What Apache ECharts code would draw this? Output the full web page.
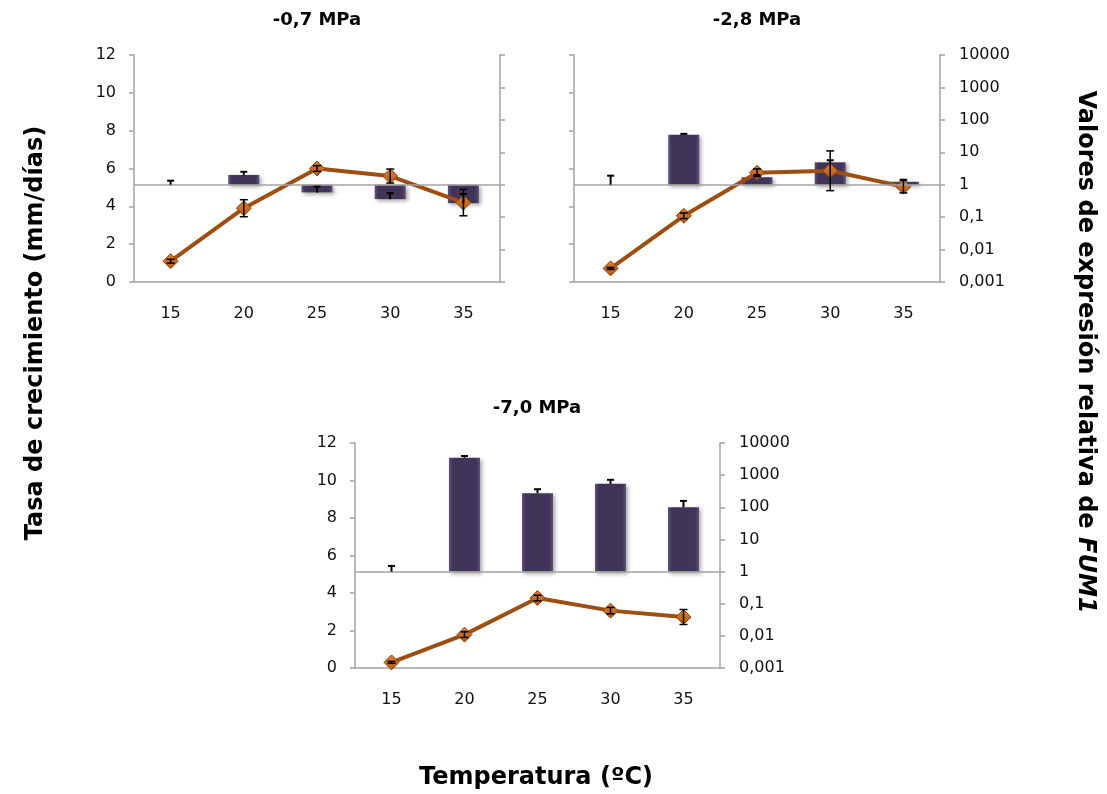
<!DOCTYPE html>
<html>
<head>
<meta charset="utf-8">
<script src="https://cdn.jsdelivr.net/npm/echarts@6/dist/echarts.min.js"></script>
<style>
  html, body { margin: 0; background: #fff; }
  #chart { width: 1107px; height: 794px; }
</style>
</head>
<body>
<div id="chart"></div>
<script>
const temperatures = ['15', '20', '25', '30', '35'];
const panelTitles = ['-0,7 MPa', '-2,8 MPa', '-7,0 MPa'];

// tasa de crecimiento (mm/días) + error
const growth07 = [1.1, 3.9, 6.0, 5.6, 4.2];
const growth07Err = [0.1, 0.45, 0.15, 0.37, 0.7];
const growth28 = [0.72, 3.5, 5.78, 5.88, 5.04];
const growth28Err = [0.05, 0.15, 0.2, 1.05, 0.33];
const growth70 = [0.3, 1.78, 3.73, 3.06, 2.72];
const growth70Err = [0.05, 0.15, 0.15, 0.17, 0.4];

// expresión relativa de FUM1 (escala log) + error (solo positivo)
const expr07 = [1.0, 2.0, 0.58, 0.36, 0.27];
const expr07Err = [0.33, 0.5, 0.29, 0.19, 0.25];
const expr28 = [1.0, 35, 1.7, 4.9, 1.23];
const expr28Err = [0.9, 2, 0.3, 0.8, 0.2];
const expr70 = [1.0, 3500, 275, 535, 100];
const expr70Err = [0.5, 445, 90, 180, 58];

const AXIS_GREY = '#a3a3a3';
const FONT = 'DejaVu Sans';

const panels = [
  { growth: growth07, gErr: growth07Err, expr: expr07, eErr: expr07Err, box: { left: 134, top: 55, width: 366, height: 227 }, leftLabels: true, rightLabels: false },
  { growth: growth28, gErr: growth28Err, expr: expr28, eErr: expr28Err, box: { left: 574, top: 55, width: 366, height: 227 }, leftLabels: false, rightLabels: true },
  { growth: growth70, gErr: growth70Err, expr: expr70, eErr: expr70Err, box: { left: 355, top: 443, width: 365, height: 225 }, leftLabels: true, rightLabels: true }
];

function errRender(plusOnly, lw, cap) {
  return function (params, api) {
    const x = api.value(0), v = api.value(1), e = api.value(2);
    const lo = plusOnly ? v : v - e;
    const hi = v + e;
    const p1 = api.coord([x, lo]);
    const p2 = api.coord([x, hi]);
    const style = { stroke: '#000', lineWidth: lw };
    const kids = [
      { type: 'line', shape: { x1: p1[0], y1: p1[1], x2: p2[0], y2: p2[1] }, style: style },
      { type: 'line', shape: { x1: p2[0] - cap, y1: p2[1], x2: p2[0] + cap, y2: p2[1] }, style: style }
    ];
    if (!plusOnly) {
      kids.push({ type: 'line', shape: { x1: p1[0] - cap, y1: p1[1], x2: p1[0] + cap, y2: p1[1] }, style: style });
    }
    return { type: 'group', children: kids };
  };
}

function fmtComma(v) {
  return String(+Number(v).toPrecision(3)).replace('.', ',');
}

const grid = [], xAxis = [], yAxis = [], series = [];

panels.forEach(function (p, i) {
  grid.push(p.box);
  xAxis.push({
    type: 'category', gridIndex: i, data: temperatures,
    axisLine: { onZero: false, lineStyle: { color: AXIS_GREY, width: 1.5 } },
    axisTick: { length: 5, lineStyle: { color: AXIS_GREY, width: 1.5 } },
    axisLabel: { color: '#111', fontSize: 16, fontFamily: FONT, margin: 24 }
  });
  yAxis.push({
    type: 'value', gridIndex: i, position: 'left', min: 0, max: 12, interval: 2,
    axisLine: { show: true, lineStyle: { color: AXIS_GREY, width: 1.5 } },
    axisTick: { show: true, length: 5, lineStyle: { color: AXIS_GREY, width: 1.5 } },
    axisLabel: { show: p.leftLabels, color: '#111', fontSize: 16, fontFamily: FONT, margin: 18 },
    splitLine: { show: false }
  });
  yAxis.push({
    type: 'log', gridIndex: i, position: 'right', logBase: 10, min: 0.001, max: 10000, splitNumber: 7,
    axisLine: { show: true, lineStyle: { color: AXIS_GREY, width: 1.5 } },
    axisTick: { show: true, length: 5, lineStyle: { color: AXIS_GREY, width: 1.5 } },
    axisLabel: { show: p.rightLabels, color: '#111', fontSize: 16, fontFamily: FONT, margin: 19, formatter: fmtComma },
    splitLine: { show: false }
  });
  const lAx = i * 2, rAx = i * 2 + 1;
  series.push({
    type: 'bar', xAxisIndex: i, yAxisIndex: rAx, data: p.expr, barWidth: 31, z: 2,
    itemStyle: {
      color: { type: 'linear', x: 0, y: 0, x2: 1, y2: 0, colorStops: [
        { offset: 0, color: '#5f5079' }, { offset: 0.12, color: '#413459' },
        { offset: 0.88, color: '#413459' }, { offset: 1, color: '#5f5079' }] },
      shadowColor: 'rgba(0,0,0,0.35)', shadowBlur: 4, shadowOffsetX: 2, shadowOffsetY: 2
    },
    markLine: {
      silent: true, symbol: 'none', label: { show: false },
      lineStyle: { color: AXIS_GREY, type: 'solid', width: 1.5 },
      data: [{ yAxis: 1 }]
    }
  });
  series.push({
    type: 'custom', xAxisIndex: i, yAxisIndex: rAx, z: 5,
    renderItem: errRender(true, 2, 3.5),
    encode: { x: 0, y: 1 },
    data: p.expr.map(function (v, k) { return [k, v, p.eErr[k]]; })
  });
  series.push({
    type: 'line', xAxisIndex: i, yAxisIndex: lAx, data: p.growth, z: 4,
    lineStyle: { color: '#9d4e10', width: 4 },
    symbol: 'diamond', symbolSize: 15,
    itemStyle: {
      color: { type: 'linear', x: 0, y: 0, x2: 0, y2: 1, colorStops: [
        { offset: 0, color: '#de7d35' }, { offset: 1, color: '#b25a16' }] },
      borderColor: '#8a430c', borderWidth: 1
    }
  });
  series.push({
    type: 'custom', xAxisIndex: i, yAxisIndex: lAx, z: 6,
    renderItem: errRender(false, 1.5, 4),
    encode: { x: 0, y: 1 },
    data: p.growth.map(function (v, k) { return [k, v, p.gErr[k]]; })
  });
});

const titleStyle = { fontFamily: FONT, fontWeight: 'bold', fontSize: 18, fill: '#000', align: 'center', verticalAlign: 'middle' };
const axisTitle = { fontFamily: FONT, fontWeight: 'bold', fontSize: 24, fill: '#000', align: 'center', verticalAlign: 'middle' };

const chart = echarts.init(document.getElementById('chart'));
chart.setOption({
  backgroundColor: '#fff',
  animation: false,
  grid: grid,
  xAxis: xAxis,
  yAxis: yAxis,
  series: series,
  graphic: [
    { type: 'text', x: 317, y: 20, style: Object.assign({ text: panelTitles[0] }, titleStyle) },
    { type: 'text', x: 757, y: 20, style: Object.assign({ text: panelTitles[1] }, titleStyle) },
    { type: 'text', x: 537, y: 408, style: Object.assign({ text: panelTitles[2] }, titleStyle) },
    { type: 'text', x: 536, y: 778, style: Object.assign({ text: 'Temperatura (ºC)' }, axisTitle) },
    { type: 'text', x: 36, y: 333, rotation: Math.PI / 2, style: Object.assign({ text: 'Tasa de crecimiento (mm/días)' }, axisTitle) },
    { type: 'text', x: 1085, y: 352, rotation: -Math.PI / 2, style: {
      text: '{a|Valores de expresión relativa de }{b|FUM1}',
      align: 'center', verticalAlign: 'middle',
      rich: {
        a: { fontFamily: FONT, fontWeight: 'bold', fontSize: 24, fill: '#000' },
        b: { fontFamily: FONT, fontWeight: 'bold', fontStyle: 'italic', fontSize: 24, fill: '#000' }
      }
    } }
  ]
});
</script>
</body>
</html>
